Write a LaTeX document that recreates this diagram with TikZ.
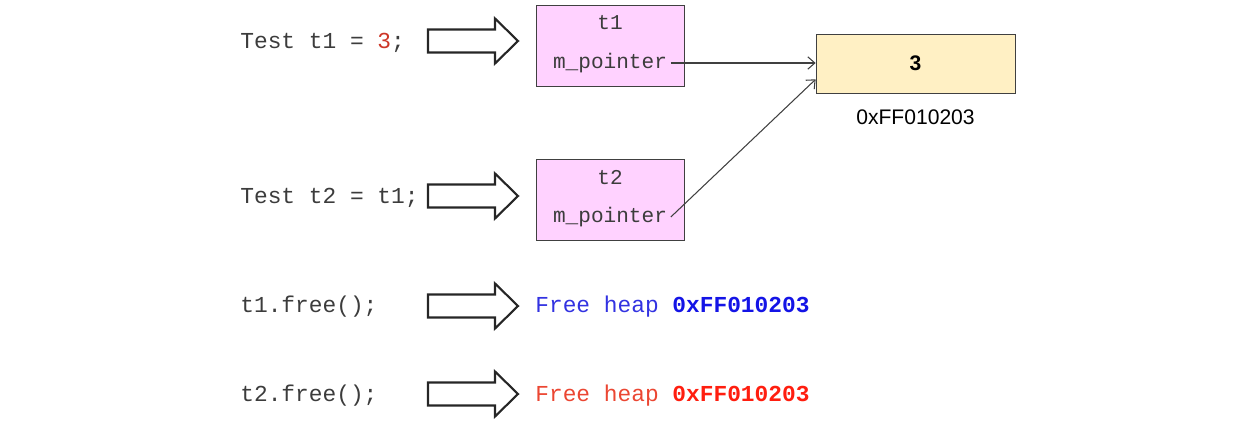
\documentclass[tikz,border=0pt]{standalone}
\usepackage{fontspec}
\setmainfont{Liberation Sans}
\setmonofont{Liberation Mono}
\usepackage{tikz}
\usetikzlibrary{arrows.meta, positioning, calc}
\usepackage{xcolor}
\definecolor{objpink}{RGB}{255,210,255}
\definecolor{heapyellow}{RGB}{255,240,196}
\definecolor{codegray}{RGB}{60,60,60}
\definecolor{litred}{RGB}{205,55,40}
\definecolor{freeblue}{RGB}{50,50,225}
\definecolor{freebluebold}{RGB}{20,20,230}
\definecolor{freered}{RGB}{235,70,50}
\definecolor{freeredbold}{RGB}{255,30,15}

\begin{document}
\begin{tikzpicture}[x=0.2mm, y=-0.2mm,
    code/.style={anchor=west, inner sep=0pt, text=codegray, font=\fontsize{13}{15}\ttfamily},
    objbox/.style={draw=black!75, fill=objpink, minimum width=29.6mm, minimum height=16.2mm, inner sep=0pt},
    field/.style={inner sep=0pt, text=codegray, font=\fontsize{12}{14}\ttfamily},
    ptr/.style={black!75, line width=0.6pt, -{Straight Barb[length=4pt,width=7pt]}}]
  \useasboundingbox (0,0) rectangle (1260,422);

  % Statements on the left
  \node[code] (s1) at (240,43) {Test t1 = \textcolor{litred}{3};};
  \node[code] (s2) at (240,198) {Test t2 = t1;};
  \node[code] (s3) at (240,307) {t1.free();};
  \node[code] (s4) at (240,396) {t2.free();};

  % Hollow arrows
  \foreach \y in {41,196,306,394} {
    \draw[line width=1.2pt, black!85] (428,\y-11.5) -- (495,\y-11.5) -- (495,\y-22.5) -- (518,\y)
      -- (495,\y+22.5) -- (495,\y+11.5) -- (428,\y+11.5) -- cycle;
  }

  % Objects on the stack
  \node[objbox] (t1) at (610,45.5) {};
  \node[field] (t1name) at (610,23) {t1};
  \node[field] (t1ptr) at (610,63) {m\_pointer};
  \node[objbox] (t2) at (610,199.5) {};
  \node[field] (t2name) at (610,178) {t2};
  \node[field] (t2ptr) at (610,217) {m\_pointer};

  % Heap block
  \node[draw=black!75, fill=heapyellow, minimum width=39.8mm, minimum height=11.8mm,
        font=\fontsize{12}{14}\selectfont\bfseries] (val) at (915.5,63.5) {3};
  \node[below=2mm of val, font=\fontsize{12}{14}\selectfont] (addr) {0xFF010203};

  % Pointers
  \draw[ptr] ([xshift=2pt]t1ptr.east) -- (t1ptr.east -| val.west);
  \draw[ptr] ([xshift=2pt]t2ptr.east) -- ([yshift=-9pt]val.west);

  % Results of free()
  \node[code, text=freeblue] (f1) at (535,307) {Free heap \textcolor{freebluebold}{\textbf{0xFF010203}}};
  \node[code, text=freered] (f2) at (535,396) {Free heap \textcolor{freeredbold}{\textbf{0xFF010203}}};
\end{tikzpicture}
\end{document}
